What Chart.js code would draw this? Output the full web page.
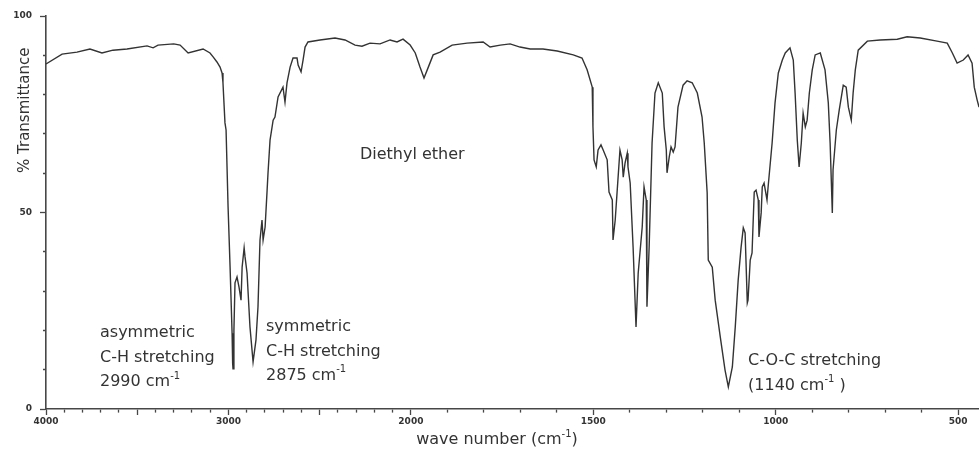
<!DOCTYPE html>
<html>
<head>
<meta charset="utf-8">
<script src="https://cdn.jsdelivr.net/npm/chart.js@4.4.1/dist/chart.umd.min.js"></script>
<style>
  html, body { margin: 0; padding: 0; background: #fff; }
  canvas { display: block; }
</style>
</head>
<body>
<canvas id="ir" width="979" height="453"></canvas>
<script>
// IR spectrum of diethyl ether: wavenumber (cm-1) and % transmittance
const wavenumbers = [
  4000, 3912, 3830, 3759, 3693, 3633, 3556, 3446, 3413, 3386, 3300, 3265,
  3221, 3139, 3101, 3084, 3063, 3046, 3035, 3030, 3019, 3013, 3002, 2991,
  2980, 2977, 2975, 2970, 2964, 2953, 2942, 2931, 2925, 2914, 2909, 2898,
  2882, 2865, 2849, 2838, 2827, 2816, 2810, 2799, 2788, 2783, 2772, 2755,
  2745, 2728, 2701, 2690, 2679, 2662, 2646, 2624, 2618, 2602, 2591, 2580,
  2564, 2498, 2416, 2361, 2306, 2268, 2224, 2169, 2114, 2076, 2043, 2004,
  1988, 1975, 1964, 1953, 1939, 1920, 1887, 1846, 1802, 1783, 1755, 1728,
  1701, 1673, 1638, 1599, 1555, 1531, 1517, 1503, 1501, 1498, 1492, 1487,
  1479, 1473, 1462, 1457, 1448, 1446, 1440, 1435, 1427, 1421, 1418, 1413,
  1407, 1405, 1399, 1391, 1383, 1377, 1366, 1361, 1355, 1353, 1347, 1339,
  1331, 1322, 1311, 1306, 1300, 1298, 1292, 1287, 1281, 1276, 1268, 1254,
  1243, 1229, 1215, 1202, 1196, 1188, 1185, 1174, 1166, 1152, 1139, 1130,
  1119, 1111, 1103, 1095, 1089, 1084, 1078, 1076, 1070, 1065, 1059, 1054,
  1048, 1046, 1040, 1037, 1032, 1024, 1021, 1010, 1002, 993, 982, 974,
  961, 952, 947, 941, 936, 930, 925, 919, 914, 908, 900, 892,
  878, 865, 856, 851, 845, 843, 834, 826, 815, 807, 801, 793,
  788, 782, 774, 749, 714, 667, 640, 604, 558, 530, 516, 503,
  486, 473, 462, 456, 448, 443
];
const transmittance = [
  87.8, 90.3, 90.8, 91.6, 90.6, 91.3, 91.6, 92.4, 91.9, 92.6, 92.9, 92.6,
  90.6, 91.6, 90.6, 89.6, 88.3, 87.0, 85.5, 83.0, 72.8, 71.0, 51.4, 36.1,
  19.3, 11.7, 10.2, 20.0, 32.1, 33.6, 31.0, 27.7, 36.1, 41.0, 38.7, 34.6,
  20.9, 12.0, 17.6, 26.0, 43.0, 48.1, 43.0, 46.3, 55.7, 60.1, 68.4, 73.5,
  74.3, 79.4, 81.9, 78.1, 83.0, 87.0, 89.3, 89.3, 87.5, 85.8, 88.8, 92.1,
  93.4, 93.9, 94.4, 93.9, 92.6, 92.3, 93.1, 92.9, 93.9, 93.4, 94.1, 92.6,
  90.6, 87.0, 84.2, 86.8, 90.1, 90.8, 92.6, 93.1, 93.4, 92.1, 92.6, 92.9,
  92.1, 91.6, 91.6, 91.1, 90.1, 89.3, 86.3, 81.9, 71.8, 63.4, 61.6, 65.9,
  67.2, 65.9, 63.4, 55.2, 53.2, 43.0, 48.1, 55.0, 65.9, 63.4, 59.0, 62.6,
  65.1, 61.6, 57.5, 41.2, 20.9, 34.6, 46.3, 56.5, 53.2, 26.0, 41.2, 67.7,
  80.4, 83.0, 80.4, 71.8, 65.9, 60.1, 64.1, 66.7, 65.4, 66.7, 76.8, 82.4,
  83.5, 83.0, 80.4, 74.3, 67.7, 55.0, 37.9, 36.1, 27.7, 18.3, 9.9, 5.6,
  10.7, 20.9, 32.8, 41.2, 46.1, 44.8, 27.0, 27.7, 37.9, 39.7, 55.2, 55.7,
  53.2, 43.8, 49.9, 56.5, 57.5, 53.2, 56.5, 67.7, 77.9, 85.5, 88.8, 90.6,
  91.9, 88.8, 80.4, 68.4, 61.6, 67.7, 75.3, 71.8, 73.5, 80.4, 86.3, 90.1,
  90.6, 86.3, 77.9, 67.7, 49.9, 60.8, 71.0, 76.1, 82.4, 81.9, 76.8, 73.5,
  80.4, 86.3, 91.3, 93.6, 93.9, 94.1, 94.7, 94.4, 93.6, 93.1, 90.6, 88.0,
  88.8, 90.1, 88.0, 81.9, 78.6, 76.8
];

// Axis ticks
const xLabelTicks = [4000, 3000, 2000, 1500, 1000, 500];
const xLongTicks = [4000, 3500, 3000, 2500, 2000, 1500, 1000, 500];
const xMinorStep = 100;
const yLabelTicks = [0, 50, 100];
const yMinorStep = 10;

const X_MIN = 443, X_MAX = 4000, BREAK = 2000;

// Position along the wavenumber axis: below 2000 cm-1 the scale is doubled
function axisPos(v) {
  return v >= BREAK ? X_MAX - v : (X_MAX - BREAK) + 2 * (BREAK - v);
}

class WavenumberScale extends Chart.LinearScale {
  getPixelForValue(value) {
    if (value === null || value === undefined || isNaN(value)) return NaN;
    return this.getPixelForDecimal(axisPos(value) / axisPos(this.min));
  }
  getValueForPixel(pixel) {
    const p = this.getDecimalForPixel(pixel) * axisPos(this.min);
    const head = X_MAX - BREAK;
    return p <= head ? X_MAX - p : BREAK - (p - head) / 2;
  }
}
WavenumberScale.id = 'wavenumber';
WavenumberScale.defaults = Chart.LinearScale.defaults;
Chart.register(WavenumberScale);

const INK = '#333333';
const AXIS = '#474747';
const FONT = '"DejaVu Sans", sans-serif';

// Text placed on the plot, anchored in data coordinates
const notes = [
  { v: 2279, t: 64.6, lines: [[{ s: 'Diethyl ether' }]] },
  { v: 3704, t: 19.3, lines: [
      [{ s: 'asymmetric' }],
      [{ s: 'C-H stretching' }],
      [{ s: '2990 cm' }, { s: '-1', sup: true }]] },
  { v: 2794, t: 20.9, lines: [
      [{ s: 'symmetric' }],
      [{ s: 'C-H stretching' }],
      [{ s: '2875 cm' }, { s: '-1', sup: true }]] },
  { v: 1076, t: 12.2, lines: [
      [{ s: 'C-O-C stretching' }],
      [{ s: '(1140 cm' }, { s: '-1', sup: true }, { s: ' )' }]] }
];

function drawRich(ctx, parts, x, y, size, align) {
  const widths = parts.map(p => {
    ctx.font = (p.sup ? Math.round(size * 0.62) : size) + 'px ' + FONT;
    return ctx.measureText(p.s).width;
  });
  const total = widths.reduce((a, b) => a + b, 0);
  let cx = align === 'center' ? x - total / 2 : x;
  parts.forEach((p, i) => {
    ctx.font = (p.sup ? Math.round(size * 0.62) : size) + 'px ' + FONT;
    ctx.fillText(p.s, cx, p.sup ? y - size * 0.38 : y);
    cx += widths[i];
  });
}

const textPlugin = {
  id: 'spectrumText',
  afterDraw(chart) {
    const { ctx, scales: { x, y } } = chart;
    ctx.save();
    ctx.fillStyle = INK;
    ctx.textBaseline = 'middle';
    ctx.textAlign = 'left';
    const size = 16, lineGap = 24.5;
    notes.forEach(n => {
      const px = x.getPixelForValue(n.v);
      const py = y.getPixelForValue(n.t);
      n.lines.forEach((parts, i) => drawRich(ctx, parts, px, py + i * lineGap, size, 'left'));
    });
    // x axis title
    drawRich(ctx, [{ s: 'wave number (cm' }, { s: '-1', sup: true }, { s: ')' }],
      x.getPixelForValue(1764), x.top + 31, 16, 'center');
    // y axis title
    ctx.translate(y.left + 25, y.getPixelForValue(76));
    ctx.rotate(-Math.PI / 2);
    ctx.textAlign = 'center';
    ctx.font = '15px ' + FONT;
    ctx.fillText('% Transmittance', 0, 0);
    ctx.restore();
  }
};

const points = wavenumbers.map((v, i) => ({ x: v, y: transmittance[i] }));

function minorDash(isMajor, outerFirst) {
  if (isMajor) return [];
  return outerFirst ? [0, 3, 3, 20] : [3, 20];
}

new Chart(document.getElementById('ir'), {
  type: 'line',
  data: {
    datasets: [{
      data: points,
      borderColor: INK,
      borderWidth: 1.4,
      pointRadius: 0,
      tension: 0,
      fill: false
    }]
  },
  options: {
    responsive: false,
    animation: false,
    events: [],
    layout: { padding: { top: 16, right: 0, left: 0, bottom: 0 } },
    plugins: { legend: { display: false }, tooltip: { enabled: false } },
    scales: {
      x: {
        type: 'wavenumber',
        min: X_MIN,
        max: X_MAX,
        afterBuildTicks(scale) {
          const t = [];
          for (let v = 500; v <= X_MAX; v += xMinorStep) t.push({ value: v });
          scale.ticks = t;
        },
        afterFit(scale) { scale.height = 44; },
        border: { display: true, color: AXIS, width: 1.6 },
        grid: {
          drawOnChartArea: false,
          drawTicks: true,
          tickLength: 6,
          tickColor: AXIS,
          tickWidth: 1.3,
          tickBorderDash: ctx => minorDash(ctx.tick && xLongTicks.includes(ctx.tick.value), false)
        },
        ticks: {
          autoSkip: false,
          maxRotation: 0,
          padding: 1,
          color: INK,
          font: { family: FONT, size: 9, weight: 'bold' },
          callback: v => (xLabelTicks.includes(v) ? String(v) : '')
        }
      },
      y: {
        min: 0,
        max: 100,
        afterBuildTicks(scale) {
          const t = [];
          for (let v = 0; v <= 100; v += yMinorStep) t.push({ value: v });
          scale.ticks = t;
        },
        afterFit(scale) { scale.width = 46; },
        border: { display: true, color: AXIS, width: 1.6 },
        grid: {
          drawOnChartArea: false,
          drawTicks: true,
          tickLength: 6,
          tickColor: AXIS,
          tickWidth: 1.3,
          tickBorderDash: ctx => minorDash(ctx.tick && yLabelTicks.includes(ctx.tick.value), true)
        },
        ticks: {
          autoSkip: false,
          padding: 8,
          color: INK,
          font: { family: FONT, size: 9, weight: 'bold' },
          callback: v => (yLabelTicks.includes(v) ? String(v) : '')
        }
      }
    }
  },
  plugins: [textPlugin]
});
</script>
</body>
</html>
